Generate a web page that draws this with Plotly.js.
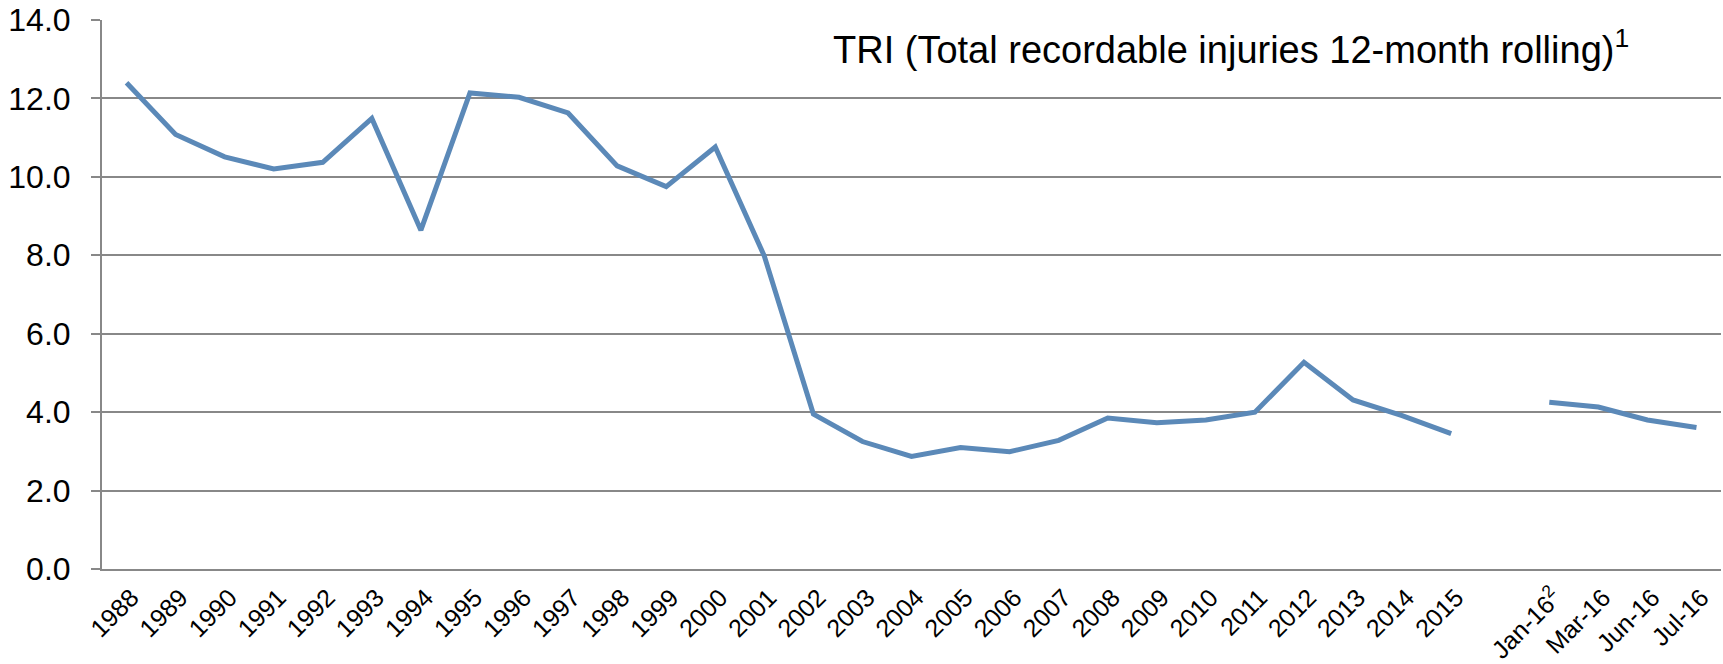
<!DOCTYPE html>
<html>
<head>
<meta charset="utf-8">
<script src="https://cdn.plot.ly/plotly-3.0.1.min.js"></script>
<style>html,body{margin:0;padding:0;background:#fff;}#chart{width:1723px;height:664px;}</style>
</head>
<body>
<div id="chart"></div>
<script>
const categories = ["1988","1989","1990","1991","1992","1993","1994","1995","1996","1997",
  "1998","1999","2000","2001","2002","2003","2004","2005","2006","2007",
  "2008","2009","2010","2011","2012","2013","2014","2015","",
  "Jan-16<sup>2</sup>","Mar-16","Jun-16","Jul-16"];
const triValues = [12.40, 11.08, 10.51, 10.20, 10.37, 11.49, 8.64, 12.14, 12.03, 11.63,
  10.28, 9.75, 10.76, 7.98, 3.95, 3.25, 2.87, 3.10, 2.99, 3.28,
  3.85, 3.73, 3.80, 4.00, 5.27, 4.31, 3.91, 3.45, null,
  4.25, 4.13, 3.80, 3.61];
const yTicks = [0, 2, 4, 6, 8, 10, 12, 14];
const chartTitle = "TRI (Total recordable injuries 12-month rolling)<sup>1</sup>";

const xIdx = categories.map((c, i) => i);
const labelled = xIdx.filter(i => categories[i] !== "");

const trace = {
  x: xIdx,
  y: triValues,
  type: 'scatter',
  mode: 'lines',
  connectgaps: false,
  line: {color: '#5b89b8', width: 5},
  hoverinfo: 'skip'
};

const layout = {
  width: 1723,
  height: 664,
  margin: {l: 102, r: 2, t: 20, b: 95},
  paper_bgcolor: '#ffffff',
  plot_bgcolor: '#ffffff',
  font: {family: 'Liberation Sans, Arial, sans-serif', color: '#000000'},
  showlegend: false,
  title: {
    text: chartTitle,
    font: {size: 38, family: 'Liberation Sans, Arial, sans-serif', color: '#000000'},
    x: 833 / 1723, xanchor: 'left', xref: 'container',
    y: 1 - 50 / 664, yanchor: 'middle', yref: 'container'
  },
  xaxis: {
    range: [-0.5, categories.length - 0.5],
    tickmode: 'array',
    tickvals: labelled,
    ticktext: labelled.map(i => categories[i]),
    tickangle: -45,
    tickfont: {size: 25},
    ticklabelshift: 5,
    ticklabelstandoff: 2,
    showgrid: false,
    zeroline: false,
    showline: true,
    linecolor: '#888888',
    linewidth: 2,
    ticks: '',
    fixedrange: true
  },
  yaxis: {
    range: [0, 14],
    tickmode: 'array',
    tickvals: yTicks,
    tickformat: '.1f',
    tickfont: {size: 32},
    showgrid: true,
    gridcolor: '#888888',
    gridwidth: 2,
    zeroline: false,
    showline: true,
    linecolor: '#888888',
    linewidth: 2,
    ticks: 'outside',
    ticklen: 9,
    tickcolor: '#888888',
    tickwidth: 2,
    ticklabelstandoff: 14,
    fixedrange: true
  }
};

Plotly.newPlot('chart', [trace], layout, {staticPlot: true, displayModeBar: false});
</script>
</body>
</html>
